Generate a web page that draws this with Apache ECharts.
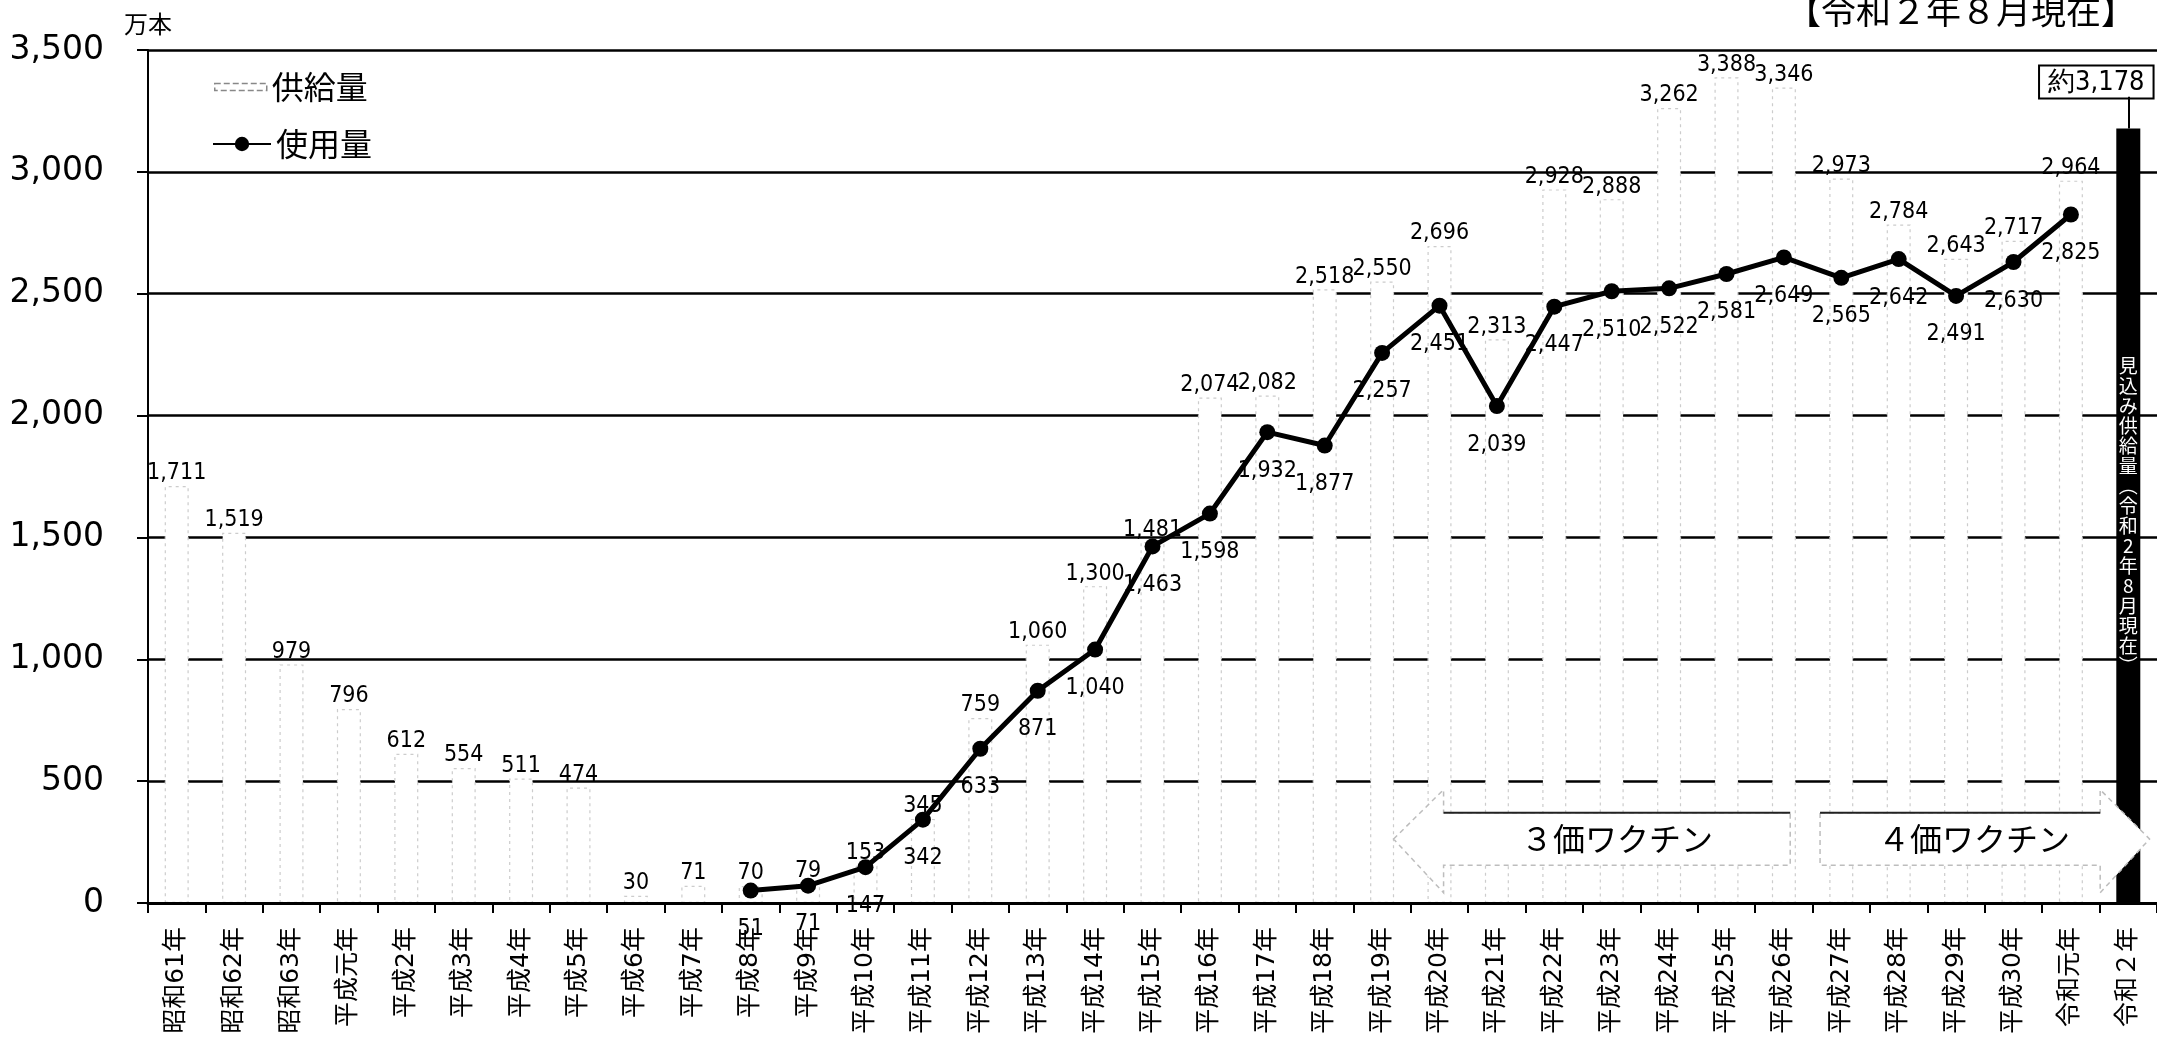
<!DOCTYPE html>
<html>
<head>
<meta charset="utf-8">
<script src="https://cdn.jsdelivr.net/npm/echarts/dist/echarts.min.js"></script>
<style>
html,body{margin:0;padding:0;background:#fff;}
#chart{width:2157px;height:1048px;}
</style>
</head>
<body>
<div id="chart"></div>
<script>
const categories = ['昭和61年','昭和62年','昭和63年','平成元年','平成2年','平成3年','平成4年','平成5年','平成6年','平成7年','平成8年','平成9年','平成10年','平成11年','平成12年','平成13年','平成14年','平成15年','平成16年','平成17年','平成18年','平成19年','平成20年','平成21年','平成22年','平成23年','平成24年','平成25年','平成26年','平成27年','平成28年','平成29年','平成30年','令和元年','令和２年'];
const supply = [1711,1519,979,796,612,554,511,474,30,71,70,79,153,345,759,1060,1300,1481,2074,2082,2518,2550,2696,2313,2928,2888,3262,3388,3346,2973,2784,2643,2717,2964,null];
const usage = [null,null,null,null,null,null,null,null,null,null,51,71,147,342,633,871,1040,1463,1598,1932,1877,2257,2451,2039,2447,2510,2522,2581,2649,2565,2642,2491,2630,2825,null];
const estimate = [null,null,null,null,null,null,null,null,null,null,null,null,null,null,null,null,null,null,null,null,null,null,null,null,null,null,null,null,null,null,null,null,null,null,3178];
const yTicks = [0,500,1000,1500,2000,2500,3000,3500];
const vaccineNames = ['３価ワクチン','４価ワクチン'];
const vaccineFrom = ['平成20年','平成27年'];
const vaccineTo = ['平成26年','令和２年'];
const vaccineDir = [-1, 1];
const estimateNote = '見込み供給量︵令和2年8月現在︶';
const titleText = '【令和２年８月現在】';

const fmt = v => String(v).replace(/\B(?=(\d{3})+(?!\d))/g, ',');
const NUM = '"DejaVu Sans Condensed","DejaVu Sans",sans-serif';
const JP = '"Noto Sans CJK JP",sans-serif';

const estIdx = estimate.findIndex(v => v != null);
const vaccineData = vaccineNames.map((n, i) => [categories.indexOf(vaccineFrom[i]), categories.indexOf(vaccineTo[i]), vaccineDir[i], i]);

const chart = echarts.init(document.getElementById('chart'));
chart.setOption({
  animation: false,
  backgroundColor: '#fff',
  title: {
    text: titleText, right: 16, top: -12,
    textStyle: {fontFamily: JP, fontSize: 35, fontWeight: 'normal', color: '#000'}
  },
  legend: [
    {
      left: 209, top: 66, orient: 'vertical',
      itemWidth: 52, itemHeight: 7, itemGap: 8,
      textStyle: {fontFamily: JP, fontSize: 32, color: '#000'},
      data: [{name: '供給量', icon: 'rect', itemStyle: {color: '#fff', borderColor: '#888', borderWidth: 1.5, borderType: 'dashed'}}]
    },
    {
      left: 207, top: 123, orient: 'vertical',
      itemWidth: 58, itemHeight: 18, itemGap: 4,
      textStyle: {fontFamily: JP, fontSize: 32, color: '#000'},
      data: [{name: '使用量'}]
    }
  ],
  grid: {left: 148, top: 50, width: 2012, height: 853, containLabel: false},
  xAxis: {
    type: 'category', data: categories, z: 5,
    axisLine: {show: true, lineStyle: {color: '#000', width: 3}},
    axisTick: {show: true, alignWithLabel: false, length: 10, lineStyle: {color: '#000', width: 2}},
    axisLabel: {interval: 0, rotate: 90, margin: 24, fontSize: 25, color: '#000', fontFamily: '"DejaVu Sans","Noto Sans CJK JP",sans-serif'}
  },
  yAxis: {
    type: 'value', min: yTicks[0], max: yTicks[yTicks.length - 1], interval: yTicks[1] - yTicks[0],
    name: '万本', nameLocation: 'end', nameGap: 14,
    nameTextStyle: {fontFamily: JP, fontSize: 24, color: '#000', align: 'center'},
    axisLine: {show: true, lineStyle: {color: '#000', width: 2}},
    axisTick: {show: true, length: 11, lineStyle: {color: '#000', width: 2}},
    axisLabel: {margin: 44, fontSize: 33, color: '#000', fontFamily: '"DejaVu Sans",sans-serif', formatter: v => fmt(v)},
    splitLine: {show: true, lineStyle: {color: '#000', width: 2.5, type: 'solid'}}
  },
  series: [
    {
      name: '供給量', type: 'bar', data: supply, barWidth: 24, barGap: '-100%',
      itemStyle: {color: '#fff', borderColor: '#cccccc', borderWidth: 1.2, borderType: [3, 4]},
      label: {show: true, position: 'top', distance: 1, fontSize: 23, color: '#000', fontFamily: NUM, formatter: p => fmt(p.value)}
    },
    {
      name: 'estimate', type: 'bar', data: estimate, barWidth: 24, barGap: '-100%',
      itemStyle: {color: '#000'},
      label: {
        show: true, position: 'top', distance: 31, offset: [-32, 0],
        fontSize: 27, color: '#000', fontFamily: NUM,
        backgroundColor: '#fff', borderColor: '#000', borderWidth: 2, padding: [3, 8, 1, 8],
        formatter: p => '約' + fmt(p.value)
      },
      markLine: {
        silent: true, symbol: 'none', label: {show: false},
        lineStyle: {color: '#000', width: 2, type: 'solid'},
        data: [[{coord: [estIdx, estimate[estIdx]]}, {coord: [estIdx, estimate[estIdx] + 130]}]]
      }
    },
    {
      name: 'estimateNote', type: 'bar', data: estimate, barWidth: 24, barGap: '-100%',
      itemStyle: {color: 'rgba(0,0,0,0)'},
      label: {
        show: true, position: 'inside', fontSize: 19, lineHeight: 20, color: '#fff', fontFamily: JP,
        formatter: () => estimateNote.split('').join('\n')
      }
    },
    {
      name: 'vaccine', type: 'custom', data: vaccineData, z: 3, clip: false,
      renderItem: (params, api) => {
        const from = api.value(0), to = api.value(1), dir = api.value(2);
        const name = vaccineNames[api.value(3)];
        const band = api.size([1, 0])[0];
        const pFrom = api.coord([from, 0])[0];
        const pTo = api.coord([to, 0])[0];
        const yTop = api.coord([0, 370])[1], yBot = api.coord([0, 155])[1];
        const yHT = api.coord([0, 465])[1], yHB = api.coord([0, 42])[1];
        const yMid = (yTop + yBot) / 2;
        let pts, lx1, lx2, tx;
        if (dir < 0) {
          const tip = pFrom - 0.8 * band, hb = tip + 50, end = pTo + 0.11 * band;
          pts = [[tip, yMid], [hb, yHT], [hb, yTop], [end, yTop], [end, yBot], [hb, yBot], [hb, yHB]];
          lx1 = hb; lx2 = end; tx = (hb + end) / 2;
        } else {
          const start = pFrom - 0.37 * band, hb = pTo - 0.49 * band, tip = pTo + 0.37 * band;
          pts = [[start, yTop], [hb, yTop], [hb, yHT], [tip, yMid], [hb, yHB], [hb, yBot], [start, yBot]];
          lx1 = start; lx2 = hb; tx = (start + hb) / 2 + 14;
        }
        return {
          type: 'group',
          children: [
            {type: 'polygon', shape: {points: pts}, style: {fill: '#fff', stroke: '#bdbdbd', lineWidth: 1.5, lineDash: [5, 4]}},
            {type: 'line', shape: {x1: lx1, y1: yTop, x2: lx2, y2: yTop}, style: {stroke: '#222', lineWidth: 2}},
            {type: 'text', style: {text: name, x: tx, y: yMid, align: 'center', verticalAlign: 'middle', fontSize: 32, fontFamily: JP, fill: '#000'}}
          ]
        };
      }
    },
    {
      name: '使用量', type: 'line', data: usage, z: 4,
      lineStyle: {color: '#000', width: 5},
      itemStyle: {color: '#000'},
      symbol: 'circle', symbolSize: 16, showSymbol: true,
      label: {show: true, position: 'bottom', distance: 19, fontSize: 23, color: '#000', fontFamily: NUM, formatter: p => fmt(p.value)}
    }
  ]
});
</script>
</body>
</html>
